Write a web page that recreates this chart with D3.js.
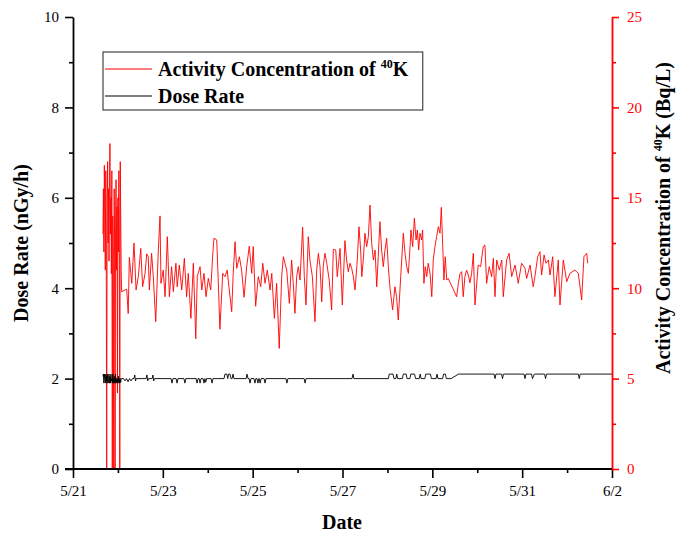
<!DOCTYPE html>
<html><head><meta charset="utf-8">
<script src="https://cdn.jsdelivr.net/npm/d3@7"></script>
<style>body{margin:0;background:#fff} svg{display:block} text{font-family:"Liberation Serif","Times New Roman",serif}</style>
</head><body><svg id="c" width="683" height="534"></svg>
<script>
// ---- data ----
const xTickLabels = ["5/21","5/23","5/25","5/27","5/29","5/31","6/2"];
const leftTicks = [0,2,4,6,8,10];
const rightTicks = [0,5,10,15,20,25];
// hours after 5/21 00:00
const kEarlyHours = [16.0,16.25,16.5,16.75,17.0,17.25,17.5,17.75,18.0,18.25,18.5,18.75,19.0,19.25,19.5,19.75,20.0,20.25,20.5,20.75,21.0,21.25,21.5,21.75,22.0,22.25,22.5,22.75,23.0,23.25,23.5,23.75,24.0,24.25,24.5,24.75,25.0,25.25,25.5,25.75];
const kEarlyValues = [13.0,15.5,12.0,16.8,14.0,11.0,16.5,13.0,0,14.5,17.0,12.5,15.5,11.5,16.0,18.0,13.0,15.0,10.8,16.5,0,14.0,12.0,0,15.5,11.5,0,13.5,16.0,11.0,14.5,4.2,15.0,12.0,16.5,13.0,0,17.0,14.0,11.0];
const kHours = [26.0,28.7,29.5,30.1,31.4,32.6,33.7,34.9,36.2,37.2,38.5,39.4,40.2,40.8,42.0,42.9,44.2,45.6,46.5,47.0,48.2,49.2,50.4,51.5,52.7,53.6,55.0,55.7,56.8,58.1,59.5,60.7,61.6,63.0,64.3,65.6,66.4,67.9,68.8,70.0,71.1,72.3,73.6,74.6,75.3,76.8,77.6,78.5,80.0,81.2,82.4,83.5,84.8,85.6,86.6,87.5,88.9,90.1,91.4,92.8,94.2,95.5,96.3,97.6,99.0,100.3,101.4,102.6,103.8,105.3,106.2,107.6,108.8,110.2,111.5,112.4,
114.2,115.6,116.8,117.7,118.6,119.5,120.4,121.3,122.7,123.6,124.5,125.7,126.6,127.9,129.3,130.2,131.1,132.0,132.9,133.7,134.6,135.6,136.9,138.2,139.1,140.4,141.2,142.7,143.9,145.3,146.2,147.1,148.0,148.9,149.8,150.7,151.9,152.8,153.7,154.3,155.1,156.0,156.9,157.8,158.7,159.6,160.5,161.4,162.3,163.1,164.0,164.9,165.8,166.7,167.6,168.5,169.4,170.8,172.0,172.9,173.8,175.1,176.5,177.4,178.3,179.2,180.1,180.6,181.5,182.4,183.3,184.0,184.7,185.4,186.3,186.8,187.5,188.2,189.0,189.8,190.8,191.7,192.5,193.4,194.3,195.2,196.1,196.8,197.5,198.2,198.9,199.7,200.5,
205.0,205.9,206.8,207.7,208.5,209.4,210.3,211.2,212.1,213.0,213.9,214.8,216.5,217.8,219.2,220.1,221.0,222.4,223.7,224.6,225.5,226.4,227.8,229.1,229.9,231.7,233.0,234.4,236.2,237.9,239.7,241.5,242.4,244.2,245.9,246.8,248.3,249.5,250.4,251.7,252.7,254.0,254.9,256.3,257.5,259.3,260.2,262.0,263.8,265.5,268.2,270.0,271.8,273.0,274.5,275.0];
const kValues = [9.8,9.95,8.6,11.7,10.27,12.5,9.9,10.64,12.2,10.08,10.82,11.9,11.74,9.9,11.93,10.64,8.15,12.11,14.0,10.27,11.0,9.53,12.85,9.53,11.19,9.81,11.38,10.08,11.28,9.9,11.65,9.53,10.82,8.33,11.38,7.2,10.64,11.19,9.9,10.82,9.53,10.54,9.9,11.74,12.76,12.67,10.45,7.73,10.82,10.64,11.0,9.9,8.7,10.82,12.57,11.1,11.74,11.0,9.5,11.19,12.33,10.82,12.3,9.0,10.64,10.08,11.38,10.27,11.0,9.9,10.82,8.33,10.27,6.67,10.64,11.74,
11.0,9.16,11.56,10.27,8.61,10.64,11.19,10.45,13.37,10.64,9.07,12.85,11.56,10.64,8.15,11.0,11.93,11.19,9.25,11.19,11.93,11.38,10.45,8.8,12.15,12.11,10.64,12.2,9.07,12.63,11.56,10.91,11.38,11.1,10.64,9.9,11.56,13.4,12.11,10.64,11.56,13.04,12.3,12.85,14.6,12.48,11.56,12.11,10.08,11.74,13.68,12.11,11.19,12.11,12.76,11.19,9.99,8.8,10.08,9.53,8.24,10.64,13.04,11.93,11.19,10.82,12.3,13.22,12.3,13.87,12.67,13.22,12.11,13.04,12.67,13.22,10.27,11.19,10.64,11.38,10.8,9.53,11.56,12.3,12.85,13.4,13.04,14.47,12.48,10.45,11.74,10.45,10.54,
9.53,10.27,10.82,10.91,9.53,10.64,11.0,10.73,10.3,10.82,11.93,9.07,11.28,11.19,12.3,12.39,10.27,11.19,10.64,11.65,9.53,11.56,11.0,11.56,9.53,11.56,11.93,10.64,11.28,10.27,11.38,11.1,10.54,11.28,10.08,10.64,11.74,12.02,10.73,11.84,11.38,11.56,10.73,11.74,9.53,11.56,9.07,11.56,10.36,10.82,11.0,10.82,9.35,11.74,11.93,11.38];
const doseHours = [16.0,16.25,16.5,16.75,17.0,17.25,17.5,17.75,18.0,18.25,18.5,18.75,19.0,19.25,19.5,19.75,20.0,20.25,20.5,20.75,21.0,21.25,21.5,21.75,22.0,22.25,22.5,22.75,23.0,23.25,23.5,23.75,24.0,24.25,24.5,24.75,25.0,25.25,25.5,25.75,26.0,
27.0,27.8,28.6,29.4,30.2,31.0,31.8,32.6,33.0,33.4,33.8,39.1,39.5,39.9,40.3,42.3,42.7,43.1,43.5,52.4,52.9,53.4,55.1,55.6,56.1,59.3,59.8,60.3,65.8,66.3,66.8,67.4,67.9,68.4,69.5,70.0,70.5,70.9,71.4,73.8,74.3,74.8,80.7,81.2,82.2,82.7,83.1,83.9,84.4,85.0,85.5,86.0,92.5,93.0,93.5,94.1,94.6,95.1,96.7,97.2,97.7,98.3,98.8,99.3,99.5,100.0,100.5,102.1,102.6,103.1,113.8,114.3,114.8,123.5,124.0,124.5,149.1,149.6,150.1,
168.5,169.0,171.0,171.5,172.5,173.0,173.5,176.0,176.5,178.0,178.5,180.0,180.5,182.5,183.0,185.0,185.5,186.0,188.0,188.5,191.0,191.5,194.0,194.5,195.0,197.5,198.0,199.0,199.5,202.0,206.0,225.0,225.5,226.0,229.0,229.5,230.0,241.0,241.5,242.0,245.0,245.5,246.5,252.0,252.5,253.0,270.0,270.5,271.0,288.0];
const doseValues = [2.05,2.1,1.9,2.1,2.0,1.9,2.1,1.95,2.05,1.9,2.1,1.9,2.0,2.1,1.9,2.05,1.9,2.1,1.95,2.0,1.9,2.1,1.9,2.0,1.9,2.05,1.9,2.1,1.9,2.0,1.9,2.0,1.9,2.05,1.9,2.0,1.9,2.0,1.92,2.0,2.0,
2.0,1.95,2.0,1.93,2.0,1.95,2.0,2.0,2.08,1.95,2.0,2.0,2.08,1.95,2.0,2.0,2.08,1.95,2.0,2.0,1.9,2.0,2.0,1.9,2.0,2.0,1.9,2.0,2.0,1.9,2.0,2.0,1.9,2.0,2.0,1.9,2.0,1.92,2.0,2.0,1.9,2.0,2.0,2.1,2.1,2.0,2.1,2.1,2.0,2.0,2.1,2.0,2.0,2.1,2.0,2.0,1.9,2.0,2.0,1.9,2.0,2.0,1.9,2.0,2.0,1.9,2.0,2.0,1.9,2.0,2.0,1.9,2.0,2.0,1.9,2.0,2.0,2.1,2.0,
2.0,2.1,2.1,2.0,2.0,2.1,2.0,2.0,2.1,2.1,2.0,2.0,2.1,2.1,2.0,2.0,2.1,2.0,2.0,2.1,2.1,2.0,2.0,2.1,2.0,2.0,2.1,2.1,2.0,2.0,2.1,2.1,2.0,2.1,2.1,2.0,2.1,2.1,2.0,2.1,2.1,2.0,2.1,2.1,2.0,2.1,2.1,2.0,2.1,2.1];

// ---- chart ----
const svg = d3.select("#c");
const L = 73, R = 612, T = 17, B = 469;
const serif = '"Liberation Serif","Times New Roman",serif';
const t0 = new Date(2021, 4, 21);
const toDate = h => new Date(t0.getTime() + h * 3600e3);
const tickDates = xTickLabels.map(s => { const [m, d] = s.split("/").map(Number); return new Date(2021, m - 1, d); });
const x = d3.scaleTime().domain([tickDates[0], tickDates[tickDates.length - 1]]).range([L, R]);
const yL = d3.scaleLinear().domain([0, 10]).range([B, T]);
const yR = d3.scaleLinear().domain([0, 25]).range([B, T]);

// series
const kData = kEarlyHours.map((h, i) => [h, kEarlyValues[i]]).concat(kHours.map((h, i) => [h, kValues[i]]));
const doseData = doseHours.map((h, i) => [h, doseValues[i]]);
const lineK = d3.line().x(d => x(toDate(d[0]))).y(d => yR(d[1]));
const lineD = d3.line().x(d => x(toDate(d[0]))).y(d => yL(d[1]));
svg.append("path").attr("d", lineK(kData)).attr("fill", "none").attr("stroke", "#ff0000").attr("stroke-width", 0.9);
svg.append("path").attr("d", lineD(doseData)).attr("fill", "none").attr("stroke", "#000").attr("stroke-width", 0.9);

// axes
const fs = "15px";
const minorDates = d3.timeDay.range(tickDates[0], tickDates[tickDates.length - 1]).filter((d, i) => i % 2 === 1);
const gx = svg.append("g").attr("transform", `translate(0,${B})`)
  .call(d3.axisBottom(x).tickValues(tickDates).tickFormat((d, i) => xTickLabels[i]).tickSize(9).tickPadding(7).tickSizeOuter(0));
gx.append("g").call(d3.axisBottom(x).tickValues(minorDates).tickFormat("").tickSize(4).tickSizeOuter(0)).select(".domain").remove();
gx.select(".domain").remove();
svg.append("line").attr("x1", 65).attr("x2", R).attr("y1", B).attr("y2", B).attr("stroke", "#000").attr("stroke-width", 1.8);

const gl = svg.append("g").attr("transform", `translate(${L},0)`)
  .call(d3.axisLeft(yL).tickValues(leftTicks).tickSize(8).tickPadding(6).tickSizeOuter(0));
gl.append("g").call(d3.axisLeft(yL).tickValues([1,3,5,7,9]).tickFormat("").tickSize(4).tickSizeOuter(0)).select(".domain").remove();
gl.select(".domain").attr("stroke", "#000").attr("stroke-width", 1.8);

const gr = svg.append("g").attr("transform", `translate(${R},0)`)
  .call(d3.axisRight(yR).tickValues(rightTicks).tickSize(7).tickPadding(8).tickSizeOuter(0));
gr.append("g").call(d3.axisRight(yR).tickValues([2.5,7.5,12.5,17.5,22.5]).tickFormat("").tickSize(4).tickSizeOuter(0)).select(".domain").remove();
gr.select(".domain").attr("stroke", "#ff0000").attr("stroke-width", 1.8);

[gx, gl, gr].forEach((g, i) => {
  g.attr("font-family", serif).attr("font-size", fs);
  g.selectAll("g").attr("font-family", serif).attr("font-size", fs);
  const col = i === 2 ? "#ff0000" : "#000";
  g.selectAll("text").attr("fill", col).style("font-family", serif).style("font-size", fs);
  g.selectAll("line").attr("stroke", col).attr("stroke-width", 1.6);
});

// titles
svg.append("text").attr("x", 342).attr("y", 529).attr("text-anchor", "middle")
  .attr("font-size", "20px").attr("font-weight", "bold").text("Date");
svg.append("text").attr("transform", "translate(28,243) rotate(-90)").attr("text-anchor", "middle")
  .attr("font-size", "20px").attr("font-weight", "bold").text("Dose Rate (nGy/h)");
const rt = svg.append("text").attr("transform", "translate(670,218) rotate(-90)").attr("text-anchor", "middle")
  .attr("font-size", "20px").attr("font-weight", "bold");
rt.append("tspan").text("Activity Concentration of ");
rt.append("tspan").attr("font-size", "12px").attr("dy", -8).text("40");
rt.append("tspan").attr("dy", 8).text("K (Bq/L)");

// legend
const lg = svg.append("g");
const box = lg.append("rect").attr("x", 103).attr("y", 52).attr("height", 58)
  .attr("fill", "#fff").attr("stroke", "#444").attr("stroke-width", 1.2);
const items = [["#ff0000", 69], ["#000", 96]];
items.forEach(([c, ly]) => lg.append("line").attr("x1", 105).attr("x2", 152).attr("y1", ly).attr("y2", ly).attr("stroke", c).attr("stroke-width", 1.2));
const t1 = lg.append("text").attr("x", 158).attr("y", 76).attr("font-size", "20px").attr("font-weight", "bold");
t1.append("tspan").text("Activity Concentration of ");
t1.append("tspan").attr("font-size", "12px").attr("dy", -8).text("40");
t1.append("tspan").attr("dy", 8).text("K");
lg.append("text").attr("x", 158).attr("y", 103).attr("font-size", "20px").attr("font-weight", "bold").text("Dose Rate");
const bb = t1.node().getBBox();
box.attr("width", bb.x + bb.width + 14 - 103);
</script></body></html>
